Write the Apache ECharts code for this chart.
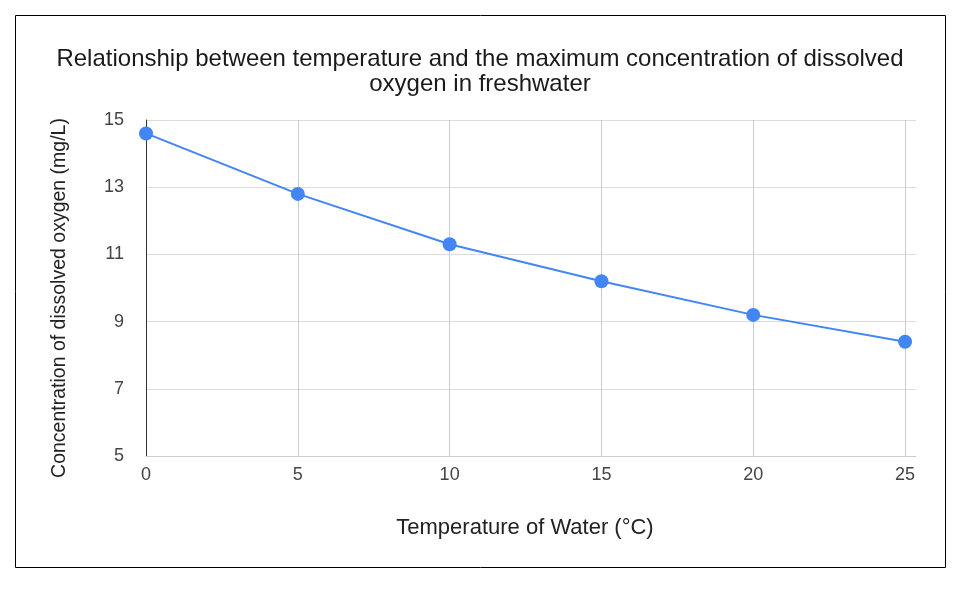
<!DOCTYPE html>
<html>
<head>
<meta charset="utf-8">
<script src="https://cdn.jsdelivr.net/npm/echarts@6/dist/echarts.min.js"></script>
<style>
html,body{margin:0;padding:0;background:#fff;}
#chart{width:960px;height:600px;}
</style>
</head>
<body>
<div id="chart"></div>
<script>
const titleText = 'Relationship between temperature and the maximum concentration of dissolved\noxygen in freshwater';
const xName = 'Temperature of Water (°C)';
const yName = 'Concentration of dissolved oxygen (mg/L)';
const temperatures = [0, 5, 10, 15, 20, 25];
const oxygen = [14.6, 12.8, 11.3, 10.2, 9.2, 8.4];
const xTicks = [0, 5, 10, 15, 20, 25];
const yTicks = [5, 7, 9, 11, 13, 15];

const FONT = '"Liberation Sans", Arial, sans-serif';
const chart = echarts.init(document.getElementById('chart'), null, {renderer: 'canvas'});
chart.setOption({
  backgroundColor: '#fff',
  animation: false,
  title: {
    text: titleText,
    left: 'center',
    top: 42,
    textStyle: {fontFamily: FONT, fontSize: 24, fontWeight: 'normal', color: '#1a1a1a', lineHeight: 25, align: 'center'}
  },
  graphic: [{
    type: 'rect',
    shape: {x: 15.5, y: 15.5, width: 930, height: 552},
    style: {fill: 'none', stroke: '#000', lineWidth: 1},
    silent: true, z: -1
  }],
  grid: {left: 146, right: 44, top: 120, bottom: 144, containLabel: false},
  xAxis: {
    type: 'value',
    min: xTicks[0],
    max: 25.36,
    interval: 5,
    name: xName,
    nameLocation: 'middle',
    nameGap: 61,
    nameTextStyle: {fontFamily: FONT, fontSize: 22, color: '#222', padding: [0, 12, 0, 0]},
    axisLine: {show: true, onZero: false, lineStyle: {color: '#cccccc', width: 1}},
    axisTick: {show: false},
    splitLine: {show: false},
    axisLabel: {
      fontFamily: FONT, fontSize: 18, color: '#444', margin: 10,
      formatter: v => (xTicks.indexOf(v) >= 0 ? String(v) : '')
    }
  },
  yAxis: {
    type: 'value',
    min: yTicks[0],
    max: yTicks[yTicks.length - 1],
    interval: 2,
    name: yName,
    nameLocation: 'middle',
    nameGap: 76,
    nameTextStyle: {fontFamily: FONT, fontSize: 19.5, color: '#222', padding: [0, 20, 0, 0]},
    axisLine: {show: true, lineStyle: {color: '#333', width: 1}},
    axisTick: {show: false},
    splitLine: {show: true, lineStyle: {color: '#dcdcdc', width: 1}},
    axisLabel: {fontFamily: FONT, fontSize: 18, color: '#444', margin: 22}
  },
  series: [{
    type: 'line',
    data: temperatures.map((t, i) => [t, oxygen[i]]),
    symbol: 'circle',
    symbolSize: 14,
    lineStyle: {color: '#4285f4', width: 2},
    itemStyle: {color: '#4285f4'},
    z: 3,
    markLine: {
      silent: true,
      symbol: ['none', 'none'],
      label: {show: false},
      lineStyle: {color: '#cccccc', width: 1, type: 'solid'},
      data: xTicks.slice(1).map(v => ({xAxis: v})),
      z: 1
    }
  }]
});
</script>
</body>
</html>
